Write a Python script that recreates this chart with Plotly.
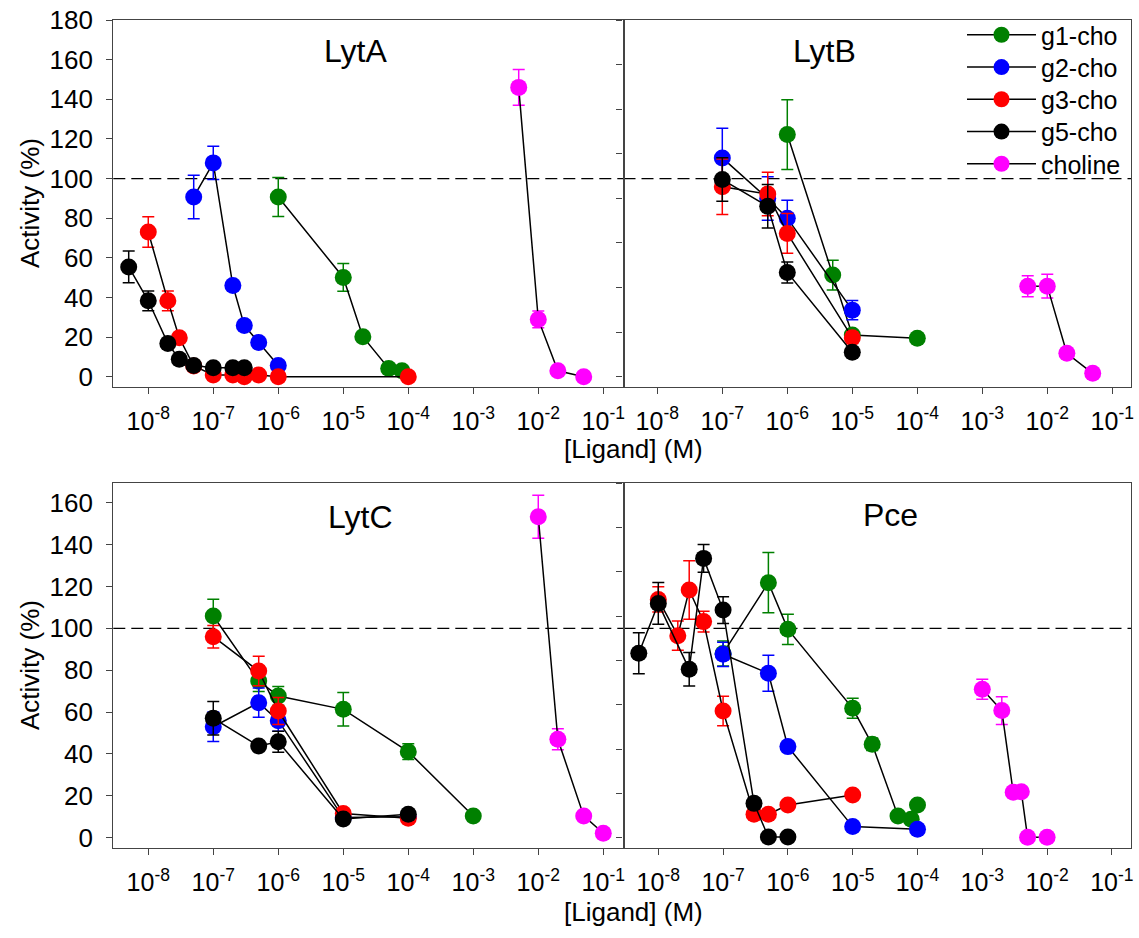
import plotly.graph_objects as go

# ---------------- data ----------------
series_names = ["g1-cho", "g2-cho", "g3-cho", "g5-cho", "choline"]
series_colors = ["#008000", "#0000FF", "#FF0000", "#000000", "#FF00FF"]
panel_names = ["LytA", "LytB", "LytC", "Pce"]
reference_level = 100

x_tick_values = [1e-8, 1e-7, 1e-6, 1e-5, 1e-4, 1e-3, 1e-2, 1e-1]
x_tick_labels = ["10<sup>-8</sup>", "10<sup>-7</sup>", "10<sup>-6</sup>", "10<sup>-5</sup>",
                 "10<sup>-4</sup>", "10<sup>-3</sup>", "10<sup>-2</sup>", "10<sup>-1</sup>"]
y_ticks_top = [0, 20, 40, 60, 80, 100, 120, 140, 160, 180]
y_ticks_bottom = [0, 20, 40, 60, 80, 100, 120, 140, 160]

# LytA
lyta_g1_x = [1e-6, 1e-5, 2e-5, 5e-5, 8e-5]
lyta_g1_y = [90.7, 50.1, 20.2, 4.2, 3.0]
lyta_g1_e = [9.8, 7.0, 0, 0, 0]
lyta_g2_x = [5e-8, 1e-7, 2e-7, 3e-7, 5e-7, 1e-6]
lyta_g2_y = [90.7, 107.9, 46.0, 25.9, 17.3, 5.7]
lyta_g2_e = [11.0, 8.4, 0, 0, 0, 0]
lyta_g3_x = [1e-8, 2e-8, 3e-8, 5e-8, 1e-7, 2e-7, 3e-7, 5e-7, 1e-6, 1e-4]
lyta_g3_y = [73.0, 38.3, 19.7, 5.4, 0.9, 0.9, 0.0, 0.9, 0.0, 0.0]
lyta_g3_e = [7.7, 5.0, 0, 0, 0, 0, 0, 0, 0, 0]
lyta_g5_x = [5e-9, 1e-8, 2e-8, 3e-8, 5e-8, 1e-7, 2e-7, 3e-7]
lyta_g5_y = [55.4, 38.3, 16.8, 8.8, 5.7, 4.5, 4.5, 4.5]
lyta_g5_e = [8.0, 5.0, 0, 0, 0, 0, 0, 0]
lyta_cho_x = [5e-3, 1e-2, 2e-2, 5e-2]
lyta_cho_y = [146.0, 28.9, 3.0, 0.0]
lyta_cho_e = [9.0, 4.2, 0, 0]

# LytB
lytb_g1_x = [1e-6, 5e-6, 1e-5, 1e-4]
lytb_g1_y = [122.2, 51.3, 21.0, 19.4]
lytb_g1_e = [17.6, 7.5, 0, 0]
lytb_g2_x = [1e-7, 5e-7, 1e-6, 1e-5]
lytb_g2_y = [110.4, 89.9, 80.0, 33.6]
lytb_g2_e = [15.0, 11.0, 9.0, 4.8]
lytb_g3_x = [1e-7, 5e-7, 1e-6, 1e-5]
lytb_g3_y = [95.8, 92.2, 72.3, 19.7]
lytb_g3_e = [14.0, 11.0, 10.0, 3.0]
lytb_g5_x = [1e-7, 5e-7, 1e-6, 1e-5]
lytb_g5_y = [99.5, 86.0, 52.6, 12.3]
lytb_g5_e = [11.0, 11.0, 5.3, 0]
lytb_cho_x = [5e-3, 1e-2, 2e-2, 5e-2]
lytb_cho_y = [45.7, 45.7, 11.8, 1.7]
lytb_cho_e = [5.3, 6.0, 2.0, 0]

# LytC
lytc_g1_x = [1e-7, 5e-7, 1e-6, 1e-5, 1e-4, 1e-3]
lytc_g1_y = [105.9, 74.8, 67.7, 61.3, 41.1, 10.4]
lytc_g1_e = [8.0, 5.0, 4.5, 8.0, 3.8, 0]
lytc_g2_x = [1e-7, 5e-7, 1e-6, 1e-5, 1e-4]
lytc_g2_y = [53.0, 64.5, 55.9, 9.6, 10.0]
lytc_g2_e = [7.0, 7.0, 5.0, 0, 0]
lytc_g3_x = [1e-7, 5e-7, 1e-6, 1e-5, 1e-4]
lytc_g3_y = [96.0, 79.6, 60.5, 11.6, 9.3]
lytc_g3_e = [5.4, 7.0, 6.4, 0, 0]
lytc_g5_x = [1e-7, 5e-7, 1e-6, 1e-5, 1e-4]
lytc_g5_y = [57.0, 43.8, 45.8, 8.9, 11.2]
lytc_g5_e = [8.0, 0, 5.0, 0, 0]
lytc_cho_x = [1e-2, 2e-2, 5e-2, 1e-1]
lytc_cho_y = [153.3, 47.0, 10.4, 2.1]
lytc_cho_e = [10.3, 5.0, 0, 0]

# Pce
pce_g1_x = [1e-7, 5e-7, 1e-6, 1e-5, 2e-5, 5e-5, 8e-5, 1e-4]
pce_g1_y = [88.0, 121.8, 99.5, 61.8, 44.6, 10.4, 8.8, 15.6]
pce_g1_e = [6.0, 14.4, 7.2, 4.8, 3.0, 0, 0, 0]
pce_g2_x = [1e-7, 5e-7, 1e-6, 1e-5, 1e-4]
pce_g2_y = [87.6, 78.5, 43.5, 5.3, 4.0]
pce_g2_e = [5.8, 8.6, 2.0, 0, 0]
pce_g3_x = [1e-8, 2e-8, 3e-8, 5e-8, 1e-7, 3e-7, 5e-7, 1e-6, 1e-5]
pce_g3_y = [113.8, 96.5, 118.3, 103.2, 60.5, 11.2, 11.2, 15.6, 20.4]
pce_g3_e = [6.0, 7.0, 14.0, 5.0, 7.0, 0, 0, 0, 0]
pce_g5_x = [5e-9, 1e-8, 3e-8, 5e-8, 1e-7, 3e-7, 5e-7, 1e-6]
pce_g5_y = [88.1, 111.9, 80.4, 133.4, 108.7, 16.4, 0.3, 0.3]
pce_g5_e = [9.8, 10.0, 8.0, 6.6, 6.4, 0, 0, 0]
pce_cho_x = [1e-3, 2e-3, 3e-3, 4e-3, 5e-3, 1e-2]
pce_cho_y = [70.9, 60.7, 21.7, 22.0, 0.2, 0.2]
pce_cho_e = [4.8, 6.6, 0, 0, 0, 0]

panels = [
    [(lyta_g1_x, lyta_g1_y, lyta_g1_e), (lyta_g2_x, lyta_g2_y, lyta_g2_e), (lyta_g3_x, lyta_g3_y, lyta_g3_e),
     (lyta_g5_x, lyta_g5_y, lyta_g5_e), (lyta_cho_x, lyta_cho_y, lyta_cho_e)],
    [(lytb_g1_x, lytb_g1_y, lytb_g1_e), (lytb_g2_x, lytb_g2_y, lytb_g2_e), (lytb_g3_x, lytb_g3_y, lytb_g3_e),
     (lytb_g5_x, lytb_g5_y, lytb_g5_e), (lytb_cho_x, lytb_cho_y, lytb_cho_e)],
    [(lytc_g1_x, lytc_g1_y, lytc_g1_e), (lytc_g2_x, lytc_g2_y, lytc_g2_e), (lytc_g3_x, lytc_g3_y, lytc_g3_e),
     (lytc_g5_x, lytc_g5_y, lytc_g5_e), (lytc_cho_x, lytc_cho_y, lytc_cho_e)],
    [(pce_g1_x, pce_g1_y, pce_g1_e), (pce_g2_x, pce_g2_y, pce_g2_e), (pce_g3_x, pce_g3_y, pce_g3_e),
     (pce_g5_x, pce_g5_y, pce_g5_e), (pce_cho_x, pce_cho_y, pce_cho_e)],
]

# ---------------- layout geometry (pixels) ----------------
W, H = 1139, 938
FONT = "Arial, Liberation Sans, sans-serif"
FRAME = "#444444"

def px_x(p):
    return p / W

def px_y(p):
    return 1 - p / H

col_px = [(113.3, 623.5), (623.5, 1131.0)]
row_px = [(20.0, 386.7), (483.0, 848.3)]
x_ranges = [[-8.538, -0.689], [-8.52, -0.712], [-8.538, -0.689], [-8.537, -0.705]]
y_ranges = [[-5.04, 180.0], [-5.04, 180.0], [-5.06, 169.4], [-5.06, 169.4]]
legend_rows_px = [35, 67.3, 99.5, 131.8, 164]

fig = go.Figure()

for pi, panel in enumerate(panels):
    xa = "x" if pi == 0 else f"x{pi+1}"
    ya = "y" if pi == 0 else f"y{pi+1}"
    for si, (xs, ys, es) in enumerate(panel):
        fig.add_trace(go.Scatter(
            x=xs, y=ys, xaxis=xa, yaxis=ya,
            mode="lines+markers",
            name=series_names[si],
            legend="legend" if si == 0 else f"legend{si+1}",
            showlegend=(pi == 0),
            line=dict(color="black", width=1.5),
            marker=dict(color=series_colors[si], size=17, line=dict(width=0)),
            error_y=dict(type="data", array=es, visible=True, color=series_colors[si],
                         thickness=1.5, width=6),
        ))

layout = dict(
    width=W, height=H,
    margin=dict(l=0, r=0, t=0, b=0, autoexpand=False),
    paper_bgcolor="white", plot_bgcolor="white",
    font=dict(family=FONT, color="black"),
    showlegend=True,
)
for si in range(5):
    lk = "legend" if si == 0 else f"legend{si+1}"
    layout[lk] = dict(x=px_x(962), y=px_y(legend_rows_px[si]), xanchor="left", yanchor="middle",
                      bgcolor="rgba(0,0,0,0)", font=dict(size=25, family=FONT),
                      itemwidth=69, borderwidth=0)

for pi in range(4):
    r, c = divmod(pi, 2)
    xk = "xaxis" if pi == 0 else f"xaxis{pi+1}"
    yk = "yaxis" if pi == 0 else f"yaxis{pi+1}"
    xa = "x" if pi == 0 else f"x{pi+1}"
    ya = "y" if pi == 0 else f"y{pi+1}"
    layout[xk] = dict(
        domain=[px_x(col_px[c][0]), px_x(col_px[c][1])], anchor=ya,
        type="log", range=x_ranges[pi],
        tickmode="array", tickvals=x_tick_values, ticktext=x_tick_labels,
        ticks="outside", ticklen=6, tickwidth=1, tickcolor=FRAME,
        tickfont=dict(size=25, family=FONT), ticklabelstandoff=6,
        showline=True, linecolor=FRAME, linewidth=1.3, mirror=True,
        showgrid=False, zeroline=False, automargin=False,
    )
    if c == 0:
        ytv = y_ticks_top if r == 0 else y_ticks_bottom
        ytt = [str(v) for v in ytv]
        show = True
    else:
        top = y_ranges[pi][1]
        ytv = [top * k / 8 for k in range(9)]
        ytt = None
        show = False
    yd = dict(
        domain=[px_y(row_px[r][1]), px_y(row_px[r][0])], anchor=xa,
        range=y_ranges[pi],
        tickmode="array", tickvals=ytv,
        ticks="outside", ticklen=6, tickwidth=1, tickcolor=FRAME,
        tickfont=dict(size=26, family=FONT), ticklabelstandoff=8,
        showticklabels=show,
        showline=True, linecolor=FRAME, linewidth=1.3, mirror=True,
        showgrid=False, zeroline=False, automargin=False,
    )
    if ytt:
        yd["ticktext"] = ytt
    layout[yk] = yd

fig.update_layout(**layout)

shapes = []
for pi in range(4):
    xa = "x" if pi == 0 else f"x{pi+1}"
    ya = "y" if pi == 0 else f"y{pi+1}"
    shapes.append(dict(type="line", xref=f"{xa} domain", yref=ya, x0=0, x1=1,
                       y0=reference_level, y1=reference_level,
                       line=dict(color="black", width=1.3, dash="12px,6px"), layer="below"))
fig.update_layout(shapes=shapes)

annotations = []
title_pos = [(356, 51), (825, 51), (360, 517), (890, 515)]
for pi, name in enumerate(panel_names):
    annotations.append(dict(text=name, xref="paper", yref="paper",
                            x=px_x(title_pos[pi][0]), y=px_y(title_pos[pi][1]),
                            xanchor="center", yanchor="middle", showarrow=False,
                            font=dict(size=32, family=FONT)))
for yc in (203, 665):
    annotations.append(dict(text="Activity (%)", xref="paper", yref="paper",
                            x=px_x(30), y=px_y(yc), xanchor="center", yanchor="middle",
                            textangle=-90, showarrow=False, font=dict(size=26, family=FONT)))
for yc in (449, 912):
    annotations.append(dict(text="[Ligand] (M)", xref="paper", yref="paper",
                            x=px_x(634), y=px_y(yc), xanchor="center", yanchor="middle",
                            showarrow=False, font=dict(size=26, family=FONT)))
fig.update_layout(annotations=annotations)

fig.write_html("out.html")
